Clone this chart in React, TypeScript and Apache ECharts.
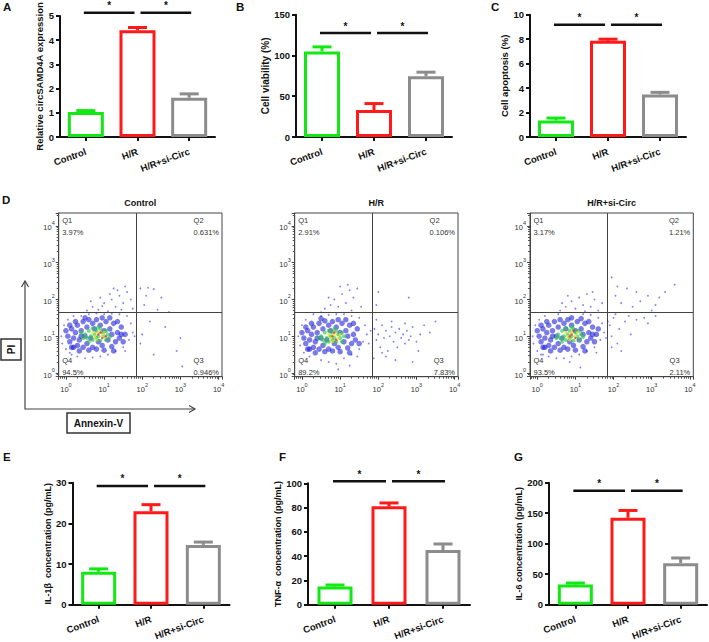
import React, { useEffect, useRef } from 'react';
import * as echarts from 'echarts';

const FONT = 'Liberation Sans, Arial, sans-serif';

// ---------- bar panel data ----------
const groups = ['Control', 'H/R', 'H/R+si-Circ'];
const barColors = ['#12e812', '#ff1a1a', '#8c8c8c'];
const sigPairs = [[0, 1], [1, 2]];

const circMean = [1.03, 4.41, 1.62];
const circErr = [0.06, 0.11, 0.16];
const viabMean = [105, 33, 74.5];
const viabErr = [5.5, 8, 5];
const apopMean = [1.35, 7.87, 3.48];
const apopErr = [0.2, 0.13, 0.17];
const il1bMean = [8.1, 23.0, 14.7];
const il1bErr = [0.7, 1.6, 0.7];
const tnfMean = [15, 81, 45];
const tnfErr = [1.2, 2.8, 5];
const il6Mean = [33, 142.5, 68];
const il6Err = [2.5, 12, 8.5];

// ---------- flow cytometry data (log10 of Annexin-V, log10 of PI) ----------
const ctrlPct = ['3.97%', '0.631%', '0.946%', '94.5%'];
const hrPct = ['2.91%', '0.106%', '7.83%', '89.2%'];
const siPct = ['3.17%', '1.21%', '2.11%', '93.5%'];

const ctrlSparse = [[0.55,1.7],[0.7,1.8],[0.85,1.72],[1.0,1.9],[1.1,1.68],[1.2,2.0],[1.3,1.8],[1.4,2.1],[1.5,1.9],[1.6,2.2],[1.7,2.0],[0.9,2.05],[1.25,2.3],[1.55,2.35],[1.75,1.75],[0.95,1.82],[1.15,2.15],[1.45,1.72],[0.65,1.95],[1.35,2.25],
  [1.95,2.3],[2.1,2.1],[2.3,2.28],[2.05,1.85],[2.4,1.72],[2.7,1.66],[2.2,1.4],[2.6,1.25],[3.0,0.95],[2.9,0.6],[3.05,0.18],[2.3,0.5],[2.0,1.05],[1.95,0.8],[2.5,2.05],[2.15,2.32],
  [-0.12,1.0],[-0.1,0.8],[-0.05,1.3],[0.0,0.65],[0.05,1.45],[0.1,0.55],[0.2,1.55],[0.3,0.45],[0.5,0.4],[0.7,0.42],[0.9,0.45],[1.1,0.5],[1.3,0.6],[1.5,0.7],[1.65,0.9],[1.75,1.1],[1.7,1.35],[1.6,1.55],[1.4,1.6],[1.2,1.62],[1.0,1.6],[0.8,1.62],[0.6,1.6],[0.4,1.55],[1.8,1.0],[1.55,0.6],[0.15,0.5]];
const ctrlBlue = [[0.05,1.0],[0.1,0.85],[0.15,1.2],[0.2,0.95],[0.25,1.1],[0.3,0.75],[0.3,1.3],[0.35,0.9],[0.4,1.15],[0.45,0.7],[0.45,1.4],[0.5,1.0],[0.55,0.8],[0.55,1.25],[0.6,0.62],[0.6,1.45],[0.65,0.95],[0.7,1.35],[0.7,0.7],[0.75,1.2],[0.8,0.65],[0.8,1.45],[0.85,0.85],[0.9,1.3],[0.95,0.75],[1.0,1.15],[1.0,0.62],[1.05,1.4],[1.1,0.9],[1.15,1.2],[1.2,0.72],[1.2,1.05],[1.25,1.35],[1.3,0.85],[1.35,1.1],[1.4,0.95],[1.45,1.25],[1.5,0.85],[1.55,1.05],[0.2,0.7],[0.1,1.3],[0.35,0.6],[0.4,1.0],[0.25,1.4],[1.35,1.4],[1.45,1.05],[0.0,1.15],[0.15,0.7],[0.5,1.5],[0.95,1.5],[1.15,1.5],[1.25,0.6]];
const ctrlGreen = [[0.5,1.05],[0.55,0.95],[0.6,1.15],[0.65,1.0],[0.7,1.22],[0.7,0.9],[0.75,1.05],[0.8,1.15],[0.8,0.95],[0.85,1.0],[0.9,1.2],[0.9,0.88],[0.95,1.1],[1.0,1.0],[1.05,1.15],[1.05,0.9],[1.1,1.05],[0.6,0.85],[0.85,1.25],[1.15,0.98],[0.45,0.95],[0.4,1.1]];
const ctrlHot = [[0.75,1.0],[0.85,1.1],[0.95,1.0],[0.8,0.9],[1.0,1.1],[0.7,1.1]];
const ctrlRed = [[0.85,1.05],[0.95,0.95],[0.9,1.1],[1.05,1.0]];

const hrSparse = [[0.6,1.75],[0.75,1.85],[0.85,2.0],[0.95,1.8],[1.05,2.15],[1.15,1.9],[1.25,2.25],[1.35,2.05],[1.45,2.3],[0.7,2.05],[1.0,2.35],[1.55,1.8],[0.5,1.65],[1.3,1.7],[1.2,2.4],
  [1.9,1.2],[1.95,0.9],[2.0,1.05],[2.05,0.7],[2.1,1.3],[2.15,0.95],[2.2,1.15],[2.25,0.6],[2.3,1.0],[2.35,1.25],[2.4,0.85],[2.45,1.1],[2.5,0.7],[2.55,1.2],[2.6,0.95],[2.65,1.05],[2.7,0.8],[2.75,1.15],[2.8,0.9],[2.85,1.0],[2.9,1.25],[3.0,0.85],[3.1,1.05],[3.2,1.3],[3.35,1.1],[3.5,1.4],[2.2,0.45],[2.45,0.35],[2.9,0.3],[3.05,0.6],[1.95,1.45],[2.1,0.55],[2.35,1.4],[2.7,1.35],[1.88,0.4],
  [2.0,2.2],[2.8,2.05],[1.95,1.85],
  [-0.1,1.0],[-0.05,0.75],[0.0,1.3],[0.05,0.55],[0.1,1.45],[0.2,0.45],[0.3,1.6],[0.5,0.35],[0.7,0.3],[0.9,0.25],[1.1,0.4],[1.3,0.5],[1.5,0.65],[1.6,0.85],[1.7,1.05],[1.75,0.8],[1.65,1.3],[1.5,1.5],[1.3,1.55],[1.1,1.6],[0.9,1.6],[0.7,1.58],[0.5,1.55],[1.8,1.15],[1.45,0.45],[0.95,0.1],[1.25,0.2]];
const hrBlue = [[0.05,0.95],[0.1,0.8],[0.15,1.15],[0.2,0.9],[0.25,1.05],[0.3,0.7],[0.3,1.25],[0.35,0.85],[0.4,1.1],[0.45,0.65],[0.45,1.35],[0.5,0.95],[0.55,0.75],[0.55,1.2],[0.6,0.58],[0.6,1.42],[0.65,0.9],[0.7,1.3],[0.7,0.65],[0.75,1.15],[0.8,0.6],[0.8,1.4],[0.85,0.8],[0.9,1.25],[0.95,0.7],[1.0,1.1],[1.0,0.58],[1.05,1.35],[1.1,0.85],[1.15,1.15],[1.2,0.68],[1.2,1.0],[1.25,1.3],[1.3,0.8],[1.35,1.05],[1.4,0.9],[1.45,1.2],[1.5,0.8],[0.2,0.65],[0.1,1.25],[0.35,0.55],[0.4,0.95],[0.25,1.35],[1.35,1.35],[0.0,1.1],[0.15,0.65],[0.5,1.48],[0.95,1.45],[1.15,1.45],[1.25,0.55]];
const hrGreen = [[0.5,1.0],[0.55,0.9],[0.6,1.1],[0.65,0.95],[0.7,1.15],[0.7,0.85],[0.75,1.0],[0.8,1.1],[0.8,0.9],[0.85,0.95],[0.9,1.15],[0.9,0.85],[0.95,1.05],[1.0,0.95],[1.05,1.1],[1.05,0.85],[1.1,1.0],[0.6,0.8],[0.85,1.2],[0.45,0.95]];
const hrHot = [[0.75,0.95],[0.85,1.05],[0.95,0.95],[0.8,0.85],[0.7,1.05],[1.0,1.05]];
const hrRed = [[0.8,1.0],[0.9,0.9],[0.85,1.1]];

const siSparse = [[0.6,1.7],[0.75,1.8],[0.9,1.95],[1.0,1.75],[1.1,2.05],[1.2,1.85],[1.3,2.15],[1.4,1.8],[1.5,2.0],[1.6,1.7],[0.8,2.1],[1.7,1.9],[1.45,2.2],[0.65,1.9],[1.25,1.68],
  [1.95,2.6],[2.05,2.1],[2.2,1.9],[2.35,2.3],[2.5,1.8],[2.7,1.95],[2.9,2.1],[3.1,1.85],[3.2,2.05],[3.35,2.2],[3.6,2.4],[2.6,2.2],[3.0,1.7],[2.1,2.35],
  [1.9,1.3],[1.95,1.0],[2.0,1.5],[2.1,0.8],[2.15,1.2],[2.3,1.4],[2.45,1.05],[2.6,1.45],[2.8,1.5],[2.9,1.35],[3.1,1.55],[2.2,0.6],[1.95,0.7],[2.4,1.55],[2.05,1.6],
  [-0.12,1.0],[-0.1,0.8],[-0.05,1.3],[0.0,0.6],[0.05,1.45],[0.1,0.5],[0.2,1.55],[0.3,0.45],[0.5,0.4],[0.7,0.4],[0.9,0.45],[1.1,0.5],[1.3,0.6],[1.5,0.7],[1.65,0.9],[1.75,1.1],[1.7,1.35],[1.6,1.5],[1.4,1.58],[1.2,1.6],[0.55,1.6],[1.8,0.95],[1.55,0.55],[0.15,0.5],[1.13,0.15],[0.85,0.3],[1.85,1.4]];
const siBlue = [[0.05,1.0],[0.1,0.85],[0.15,1.2],[0.2,0.95],[0.25,1.1],[0.3,0.75],[0.3,1.3],[0.35,0.9],[0.4,1.15],[0.45,0.7],[0.45,1.4],[0.5,1.0],[0.55,0.8],[0.55,1.25],[0.6,0.62],[0.6,1.45],[0.65,0.95],[0.7,1.35],[0.7,0.7],[0.75,1.2],[0.8,0.65],[0.8,1.45],[0.85,0.85],[0.9,1.3],[0.95,0.75],[1.0,1.15],[1.0,0.62],[1.05,1.4],[1.1,0.9],[1.15,1.2],[1.2,0.72],[1.2,1.05],[1.25,1.35],[1.3,0.85],[1.35,1.1],[1.4,0.95],[1.45,1.25],[1.5,0.85],[1.55,1.05],[0.2,0.7],[0.1,1.3],[0.35,0.6],[0.4,1.0],[0.25,1.4],[1.35,1.4],[1.45,1.05],[0.0,1.15],[0.15,0.7],[0.9,1.5],[1.15,1.48],[1.25,0.6],[1.6,1.2]];
const siGreen = [[0.55,1.05],[0.6,0.95],[0.65,1.15],[0.7,1.0],[0.75,1.22],[0.75,0.9],[0.8,1.05],[0.85,1.15],[0.85,0.95],[0.9,1.0],[0.95,1.2],[0.95,0.88],[1.0,1.1],[1.05,1.0],[1.1,1.15],[1.1,0.9],[1.15,1.05],[0.65,0.85],[0.9,1.25],[1.2,0.98],[0.5,0.95]];
const siHot = [[0.8,1.0],[0.9,1.1],[1.0,1.0],[0.85,0.9],[1.05,1.1],[0.75,1.1]];
const siRed = [[0.9,1.05],[1.0,0.95],[0.85,1.0],[0.95,1.15]];

// gate thresholds (fluorescence units)
const gateAnnexin = 68;
const gatePI = 44;
const xMin = 0.646, xMax = 12300, yMin = 0.794, yMax = 22400;

const toVal = (p: number[]) => [Math.pow(10, p[0]), Math.pow(10, p[1])];

const barPanels = [
  { letter: 'A', lx: 3, ly: 1, name: 'Relative circSAMD4A expression', mean: circMean, err: circErr, max: 5, interval: 1, sig: 5.13,
    grid: { left: 60, top: 14.7, width: 155, height: 122.3 }, nameGap: 14, nameSize: 9.5, barW: 36 },
  { letter: 'B', lx: 236, ly: 1, name: 'Cell viability (%)', mean: viabMean, err: viabErr, max: 150, interval: 50, sig: 127.5,
    grid: { left: 296, top: 14.7, width: 156, height: 122.3 }, nameGap: 24, nameSize: 10, barW: 36 },
  { letter: 'C', lx: 491, ly: 1, name: 'Cell apoptosis (%)', mean: apopMean, err: apopErr, max: 10, interval: 2, sig: 9.18,
    grid: { left: 530, top: 14.7, width: 156, height: 122.3 }, nameGap: 19, nameSize: 9.5, barW: 36 },
  { letter: 'E', lx: 3, ly: 451, name: 'IL-1β  concentration (pg/mL)', mean: il1bMean, err: il1bErr, max: 30, interval: 10, sig: 29.2,
    grid: { left: 72.5, top: 482.7, width: 157, height: 122 }, nameGap: 18, nameSize: 9, barW: 35 },
  { letter: 'F', lx: 279, ly: 451, name: 'TNF-α  concentration (pg/mL)', mean: tnfMean, err: tnfErr, max: 100, interval: 20, sig: 101.7,
    grid: { left: 308, top: 483.3, width: 162, height: 121.4 }, nameGap: 20.5, nameSize: 9, barW: 35 },
  { letter: 'G', lx: 514, ly: 451, name: 'IL-6 concentration (pg/mL)', mean: il6Mean, err: il6Err, max: 200, interval: 50, sig: 186.9,
    grid: { left: 549, top: 482.7, width: 158, height: 122 }, nameGap: 21, nameSize: 9, barW: 35 },
];

const flowPanels = [
  { title: 'Control', pct: ctrlPct, sets: [ctrlSparse, ctrlBlue, ctrlGreen, ctrlHot, ctrlRed], grid: { left: 58.7, top: 213, width: 163.3, height: 163.7 } },
  { title: 'H/R', pct: hrPct, sets: [hrSparse, hrBlue, hrGreen, hrHot, hrRed], grid: { left: 294.7, top: 213, width: 163.3, height: 163.7 } },
  { title: 'H/R+si-Circ', pct: siPct, sets: [siSparse, siBlue, siGreen, siHot, siRed], grid: { left: 530, top: 213, width: 163.3, height: 163.7 } },
];
const dotStyles = [
  { color: 'rgba(70,70,255,0.85)', size: 1.8 },
  { color: 'rgba(25,25,215,0.72)', size: 5.5 },
  { color: 'rgba(40,200,70,0.8)', size: 4 },
  { color: 'rgba(230,230,0,0.9)', size: 3 },
  { color: 'rgba(255,30,30,0.9)', size: 2.5 },
];

const powLabel = (v: number) => {
  const e = Math.log10(v);
  const r = Math.round(e);
  if (Math.abs(e - r) > 1e-6) return '';
  return `{b|10}{s|${r}}`;
};
const powRich = {
  b: { fontSize: 7.5, color: '#333', fontFamily: FONT, lineHeight: 12, verticalAlign: 'bottom' },
  s: { fontSize: 5.5, color: '#333', fontFamily: FONT, lineHeight: 6, verticalAlign: 'top' },
};

function buildOption() {
  const grid: any[] = [];
  const xAxis: any[] = [];
  const yAxis: any[] = [];
  const series: any[] = [];
  const graphic: any[] = [];
  const txt = (x: number, y: number, text: string, o: any = {}) => ({
    type: 'text', x, y, silent: true,
    style: { text, fontFamily: FONT, fontSize: o.fontSize || 11, fontWeight: o.fontWeight || 'normal', fill: o.fill || '#111',
      align: o.align || 'left', textAlign: o.align || 'left', verticalAlign: o.va || 'top', textVerticalAlign: o.va || 'top',
      lineHeight: o.lineHeight, rich: o.rich },
    rotation: o.rotation || 0,
  });

  barPanels.forEach((p) => {
    const i = grid.length;
    grid.push({ ...p.grid, containLabel: false });
    xAxis.push({
      type: 'category', gridIndex: i, data: groups,
      axisLine: { show: true, lineStyle: { color: '#111', width: 2 } },
      axisTick: { show: true, alignWithLabel: true, length: 4, lineStyle: { color: '#111', width: 2 } },
      axisLabel: { rotate: 20, interval: 0, fontSize: 9.5, fontWeight: 'bold', color: '#111', fontFamily: FONT, margin: 14 },
      splitLine: { show: false },
    });
    yAxis.push({
      type: 'value', gridIndex: i, min: 0, max: p.max, interval: p.interval,
      name: p.name, nameLocation: 'middle', nameGap: p.nameGap,
      nameTextStyle: { fontSize: p.nameSize, fontWeight: 'bold', color: '#111', fontFamily: FONT },
      axisLine: { show: true, lineStyle: { color: '#111', width: 2 } },
      axisTick: { show: true, length: 4, lineStyle: { color: '#111', width: 2 } },
      axisLabel: { fontSize: 9.5, fontWeight: 'bold', color: '#111', fontFamily: FONT, margin: 6 },
      splitLine: { show: false },
    });
    series.push({
      type: 'custom', xAxisIndex: i, yAxisIndex: i, clip: false, z: 2, silent: true,
      encode: { x: 0, y: [1, 2] },
      data: p.mean.map((v, k) => [k, v, v + p.err[k]]),
      renderItem: (params: any, api: any) => {
        const k = api.value(0);
        const a = api.coord([k, api.value(1)]);
        const b = api.coord([k, api.value(2)]);
        const c = barColors[k];
        return {
          type: 'group', children: [
            { type: 'line', shape: { x1: a[0], y1: a[1], x2: b[0], y2: b[1] }, style: { stroke: c, lineWidth: 3 } },
            { type: 'line', shape: { x1: b[0] - 9.5, y1: b[1], x2: b[0] + 9.5, y2: b[1] }, style: { stroke: c, lineWidth: 3 } },
          ],
        };
      },
    });
    series.push({
      type: 'bar', xAxisIndex: i, yAxisIndex: i, barWidth: p.barW, z: 3, silent: true,
      data: p.mean.map((v, k) => ({ value: v, itemStyle: { color: '#ffffff', borderColor: barColors[k], borderWidth: 3 } })),
    });
    series.push({
      type: 'custom', xAxisIndex: i, yAxisIndex: i, clip: false, z: 4, silent: true,
      encode: { x: [0, 1], y: 2 },
      data: sigPairs.map((s) => [s[0], s[1], p.sig]),
      renderItem: (params: any, api: any) => {
        const a = api.coord([api.value(0), api.value(2)]);
        const b = api.coord([api.value(1), api.value(2)]);
        const first = params.dataIndex === 0;
        const x0 = a[0] + (first ? -2 : 3);
        const x1 = b[0] + (first ? -3 : 2);
        return {
          type: 'group', children: [
            { type: 'line', shape: { x1: x0, y1: a[1], x2: x1, y2: a[1] }, style: { stroke: '#111', lineWidth: 2.5 } },
            { type: 'text', x: (x0 + x1) / 2, y: a[1] - 2,
              style: { text: '*', fontSize: 10, fontWeight: 'bold', fontFamily: FONT, fill: '#111', align: 'center', textAlign: 'center', verticalAlign: 'bottom', textVerticalAlign: 'bottom' } },
          ],
        };
      },
    });
    graphic.push(txt(p.lx, p.ly, p.letter, { fontSize: 11.5, fontWeight: 'bold' }));
  });

  flowPanels.forEach((p) => {
    const i = grid.length;
    const g = p.grid;
    grid.push({ ...g, show: true, borderColor: '#444', borderWidth: 1, backgroundColor: 'transparent' });
    xAxis.push({
      type: 'log', logBase: 10, gridIndex: i, min: xMin, max: xMax,
      axisLine: { show: true, lineStyle: { color: '#444', width: 1 } },
      axisTick: { show: true, length: 3, lineStyle: { color: '#444' } },
      minorTick: { show: true, splitNumber: 9, length: 2, lineStyle: { color: '#555' } },
      axisLabel: { formatter: powLabel, rich: powRich, margin: 5, showMinLabel: true, showMaxLabel: true },
      splitLine: { show: false }, minorSplitLine: { show: false },
    });
    yAxis.push({
      type: 'log', logBase: 10, gridIndex: i, min: yMin, max: yMax,
      axisLine: { show: true, lineStyle: { color: '#444', width: 1 } },
      axisTick: { show: true, length: 3, lineStyle: { color: '#444' } },
      minorTick: { show: true, splitNumber: 9, length: 2, lineStyle: { color: '#555' } },
      axisLabel: { formatter: powLabel, rich: powRich, margin: 4 },
      splitLine: { show: false }, minorSplitLine: { show: false },
    });
    p.sets.forEach((pts, k) => {
      const st = dotStyles[k];
      const s: any = {
        type: 'scatter', xAxisIndex: i, yAxisIndex: i, silent: true, z: 2 + k,
        symbolSize: st.size, itemStyle: { color: st.color },
        data: pts.map(toVal),
      };
      if (k === 0) {
        s.markLine = {
          silent: true, symbol: 'none', z: 10, label: { show: false },
          lineStyle: { color: '#444', width: 1, type: 'solid' },
          data: [{ xAxis: gateAnnexin }, { yAxis: gatePI }],
        };
      }
      series.push(s);
    });
    const right = g.left + g.width;
    const bottom = g.top + g.height;
    const qs = { fontSize: 7.5, fill: '#333', lineHeight: 12 };
    const rich = { q: { align: 'left', fontSize: 7.5, fontFamily: FONT, fill: '#333', lineHeight: 12 }, p: { fontSize: 7.5, fontFamily: FONT, fill: '#333', lineHeight: 12 } };
    graphic.push(txt(g.left + 3.5, g.top + 1.5, `Q1\n${p.pct[0]}`, { ...qs }));
    graphic.push(txt(right - 3, g.top + 1.5, `{q|Q2}\n{p|${p.pct[1]}}`, { ...qs, align: 'right', rich }));
    graphic.push(txt(g.left + 3.5, bottom + 1.5, `Q4\n${p.pct[3]}`, { ...qs, va: 'bottom' }));
    graphic.push(txt(right - 3, bottom + 1.5, `{q|Q3}\n{p|${p.pct[2]}}`, { ...qs, align: 'right', va: 'bottom', rich }));
    graphic.push(txt(g.left + g.width / 2, 203, p.title, { fontSize: 9, fontWeight: 'bold', align: 'center', va: 'middle' }));
  });

  graphic.push(txt(2, 194, 'D', { fontSize: 11.5, fontWeight: 'bold' }));
  // PI / Annexin-V arrows and boxes
  graphic.push({ type: 'polyline', silent: true, shape: { points: [[25, 281], [25, 409], [195, 409]] }, style: { stroke: '#444', lineWidth: 1.2, fill: null } });
  graphic.push({ type: 'polyline', silent: true, shape: { points: [[21.5, 287], [25, 281], [28.5, 287]] }, style: { stroke: '#444', lineWidth: 1.2, fill: null } });
  graphic.push({ type: 'polyline', silent: true, shape: { points: [[189, 405.5], [195, 409], [189, 412.5]] }, style: { stroke: '#444', lineWidth: 1.2, fill: null } });
  graphic.push({ type: 'rect', silent: true, shape: { x: 1, y: 339, width: 20, height: 21 }, style: { stroke: '#333', lineWidth: 1.5, fill: '#fff' } });
  graphic.push(txt(11, 349.5, 'PI', { fontSize: 10, fontWeight: 'bold', align: 'center', va: 'middle', rotation: Math.PI / 2 }));
  graphic.push({ type: 'rect', silent: true, shape: { x: 67, y: 413, width: 63, height: 20 }, style: { stroke: '#333', lineWidth: 1.5, fill: '#fff' } });
  graphic.push(txt(98.5, 423, 'Annexin-V', { fontSize: 10, fontWeight: 'bold', align: 'center', va: 'middle' }));

  return { animation: false, backgroundColor: '#ffffff', grid, xAxis, yAxis, series, graphic };
}

export default function App() {
  const ref = useRef<HTMLDivElement>(null);
  useEffect(() => {
    if (!ref.current) return;
    const chart = echarts.init(ref.current, undefined, { renderer: 'svg' });
    chart.setOption(buildOption() as any);
    return () => chart.dispose();
  }, []);
  return <div ref={ref} style={{ position: 'fixed', left: 0, top: 0, width: 709, height: 642, background: '#fff' }} />;
}
